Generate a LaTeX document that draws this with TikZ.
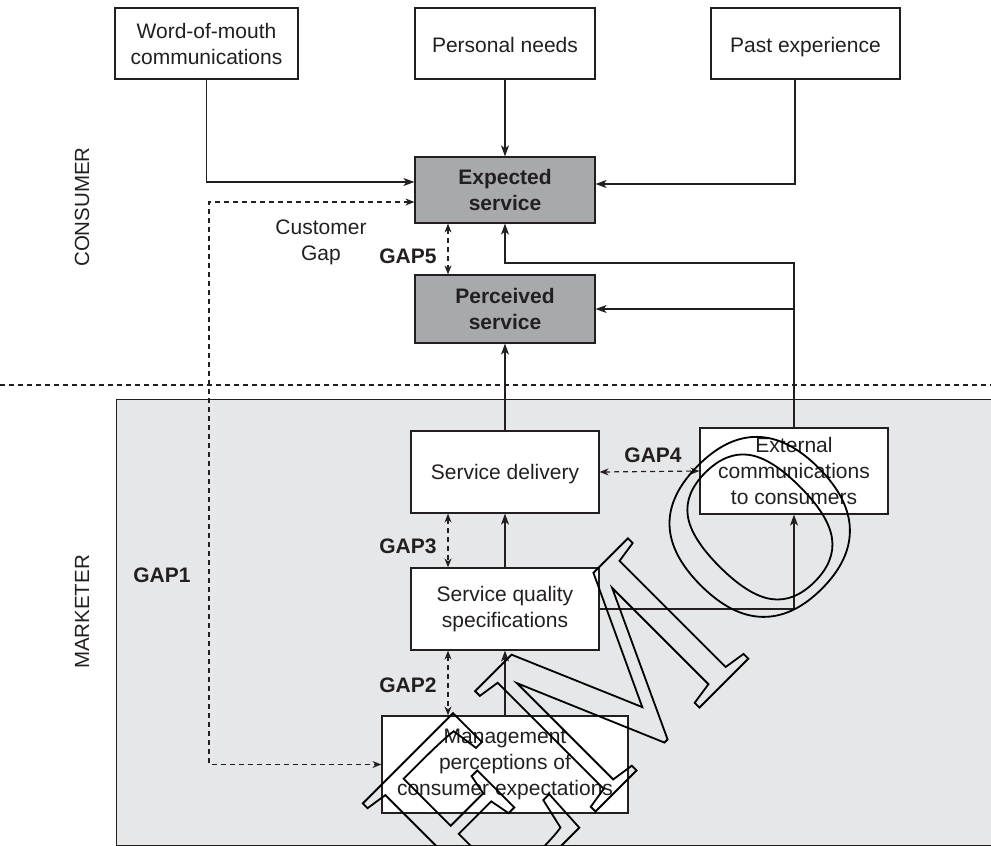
\documentclass[tikz,border=0pt]{standalone}
\usepackage{fontspec}
\setmainfont{Liberation Sans}
\newfontfamily\wmfont{Liberation Serif}
\usetikzlibrary{arrows.meta}
\definecolor{ink}{HTML}{231F20}
\definecolor{boxgray}{HTML}{A7A9AC}
\definecolor{regiongray}{HTML}{E6E7E8}
\begin{document}
\begin{tikzpicture}[x=1pt,y=-1pt,
  every node/.style={text=ink,font=\fontsize{21}{26}\selectfont},
  box/.style={draw=ink,line width=1.2pt,fill=white,inner sep=0pt,align=center},
  oneline/.style={text height=21pt,text depth=4pt},
  graybox/.style={box,fill=boxgray,font=\fontsize{21}{26}\selectfont\bfseries},
  lbl/.style={font=\fontsize{21}{26}\selectfont\bfseries,inner sep=0pt},
  side/.style={rotate=90,inner sep=0pt,font=\fontsize{20.5}{24}\selectfont},
  conn/.style={draw=ink,line width=1.2pt},
  arr/.style={conn,-{Stealth[length=11pt,width=8pt,inset=3pt]}},
  dasharr/.style={conn,dash pattern=on 5pt off 4pt,{Stealth[length=9pt,width=7pt,inset=3pt]}-{Stealth[length=9pt,width=7pt,inset=3pt]}}
]
\useasboundingbox (0,0) rectangle (991,846);
% marketer region
\fill[regiongray,draw=ink,line width=1pt] (116,399) rectangle (996,845);
% divider
\draw[ink,line width=1.1pt,dash pattern=on 5pt off 4pt] (0,385) -- (991,385);

% nodes
\node[box,minimum width=183pt,minimum height=71pt] (wom) at (206.5,43.5) {Word-of-mouth\\communications};
\node[box,oneline,minimum width=180pt,minimum height=71pt] (pn) at (505,43.5) {Personal needs};
\node[box,oneline,minimum width=189pt,minimum height=71pt] (pe) at (805.5,43.5) {Past experience};
\node[graybox,minimum width=180pt,minimum height=66pt] (exp) at (505,190) {Expected\\service};
\node[graybox,minimum width=180pt,minimum height=68pt] (perc) at (505,309) {Perceived\\service};
\node[box,text height=19pt,text depth=4pt,minimum width=188pt,minimum height=82pt] (sd) at (505,472) {Service delivery};
\node[box,minimum width=188pt,minimum height=86pt] (ext) at (794,471) {External\\communications\\to consumers};
\node[box,minimum width=188pt,minimum height=82pt] (sq) at (505,609) {Service quality\\specifications};
\node[box,minimum width=246pt,minimum height=97pt] (mg) at (505,764.5) {Management\\perceptions of\\consumer expectations};

% labels
\node[side] (cons) at (82,207) {CONSUMER};
\node[side] (mark) at (82,612) {MARKETER};
\node[align=center,inner sep=0pt] (cg) at (321,242) {Customer\\Gap};
\node[lbl] (g1l) at (162,575) {GAP1};
\node[lbl] (g2l) at (408,685) {GAP2};
\node[lbl] (g3l) at (408,546) {GAP3};
\node[lbl] (g4l) at (653,455) {GAP4};
\node[lbl] (g5l) at (408,256) {GAP5};

% coordinates
\coordinate (j) at (505,263);
\coordinate (g1) at (209,500);

% connectors
\draw[arr] (wom.south) |- ([yshift=8pt]exp.west);
\draw[arr] (pn.south) -- (exp.north);
\draw[arr] ([xshift=-10.5pt]pe.south) |- ([yshift=6pt]exp.east);
\draw[arr] (ext.north) |- (j) -- (exp.south);
\draw[arr] (ext.north |- perc.east) -- (perc.east);
\draw[arr] (sd.north) -- (perc.south);
\draw[arr] (sq.north) -- (sd.south);
\draw[arr] (mg.north) -- (sq.south);
\draw[arr] (sq.east) -| (ext.south);
\draw[dasharr] ([xshift=-57pt]exp.south) -- ([xshift=-57pt]perc.north);
\draw[dasharr] ([xshift=-57pt]sd.south) -- ([xshift=-57pt]sq.north);
\draw[dasharr] ([xshift=-57pt]sq.south) -- ([xshift=-57pt]mg.north);
\draw[dasharr] (sd.east) -- (ext.west);
\draw[dasharr] ([yshift=-12pt]exp.west) -| (g1) |- (mg.west);

% watermark
\node[rotate=45,anchor=base west,inner sep=0pt,text=black,font=\wmfont\fontsize{260}{260}\selectfont] (wm) at (345,1062)
  {\special{pdf:literal direct 1 Tr 1.8 w}DEMO\special{pdf:literal direct 0 Tr}};
\end{tikzpicture}
\end{document}
